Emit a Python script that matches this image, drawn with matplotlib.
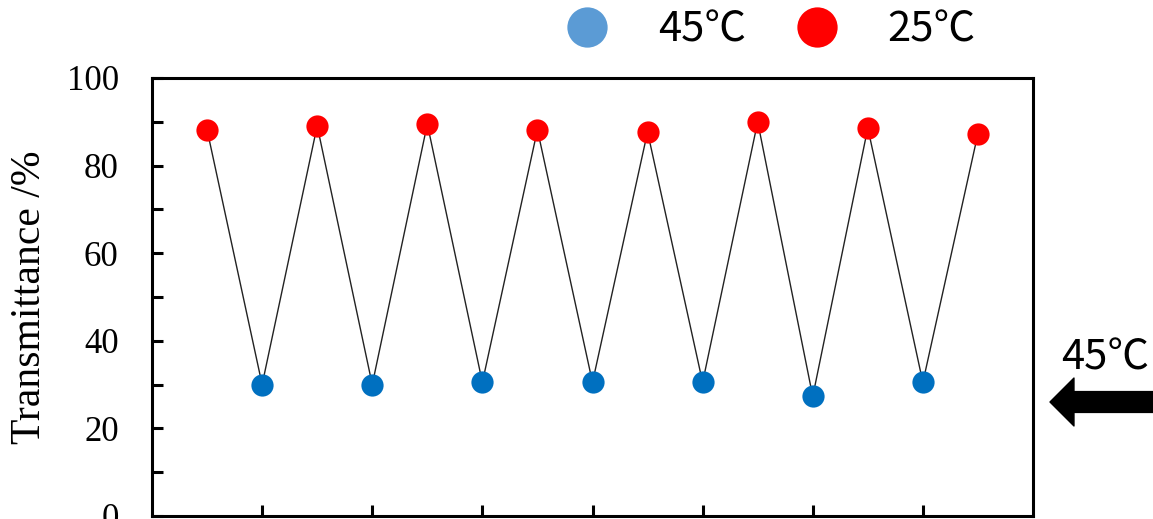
import matplotlib
matplotlib.use("Agg")
import matplotlib.pyplot as plt
from matplotlib.lines import Line2D
from matplotlib.ticker import MultipleLocator

# cycle number and transmittance, alternating 25C / 45C
cycle = [1, 2, 3, 4, 5, 6, 7, 8, 9, 10, 11, 12, 13, 14, 15]
trans = [88.2, 30.0, 89.1, 30.0, 89.5, 30.5, 88.2, 30.5, 87.7, 30.5, 90.0, 27.3, 88.6, 30.5, 87.3]
labels = ["45℃", "25℃"]

hot_c = "#0070C0"
cold_c = "#FF0000"
legend_blue = "#5B9BD5"
cjk = ["Noto Sans CJK JP", "DejaVu Sans"]
serif = "Liberation Serif"

fig = plt.figure(figsize=(11.53, 5.19), dpi=100)
ax = fig.add_axes([152 / 1153, 3 / 519, 881 / 1153, 438 / 519])

x_cold = cycle[0::2]
y_cold = trans[0::2]
x_hot = cycle[1::2]
y_hot = trans[1::2]

ax.plot(cycle, trans, color="#222222", lw=1.0, zorder=1)
ax.plot(x_cold, y_cold, "o", color=cold_c, ms=16, mec="none", zorder=2)
ax.plot(x_hot, y_hot, "o", color=hot_c, ms=16, mec="none", zorder=2)

ax.set_xlim(0, 16)
ax.set_ylim(0, 100)
ax.set_xticks([2, 4, 6, 8, 10, 12, 14])
ax.set_xticklabels([])
ax.yaxis.set_major_locator(MultipleLocator(20))
ax.yaxis.set_minor_locator(MultipleLocator(10))
ax.tick_params(axis="both", which="both", direction="in", length=8, width=2.2)
ax.tick_params(axis="y", which="major", pad=24, labelsize=25)
for lab in ax.get_yticklabels():
    lab.set_fontfamily(serif)
for s in ax.spines.values():
    s.set_linewidth(2.2)

ax.set_ylabel("Transmittance /%", fontsize=30, fontfamily=serif)
ax.yaxis.set_label_coords(-0.117, 0.5)

handles = [
    Line2D([], [], ls="none", marker="o", ms=29, color=legend_blue, mec="none"),
    Line2D([], [], ls="none", marker="o", ms=29, color=cold_c, mec="none"),
]
fig.legend(handles, labels, ncol=2, frameon=False, loc="center",
           bbox_to_anchor=(771 / 1153, 1 - 30 / 519),
           prop={"family": cjk, "size": 30},
           handlelength=1.0, handletextpad=1.2, columnspacing=1.2,
           borderpad=0, borderaxespad=0)

fig.text(1105 / 1153, 1 - 358 / 519, "45℃", ha="center", va="center",
         fontsize=30, family=cjk)
ax.annotate("", xy=(1050 / 1153, 1 - 402 / 519), xycoords="figure fraction",
            xytext=(1.0, 1 - 402 / 519), textcoords="figure fraction",
            arrowprops=dict(arrowstyle="simple,head_length=1.15,head_width=2.3,tail_width=1.0",
                            mutation_scale=15, color="black", shrinkA=0, shrinkB=0),
            annotation_clip=False)

fig.savefig("out.png", dpi=100)
